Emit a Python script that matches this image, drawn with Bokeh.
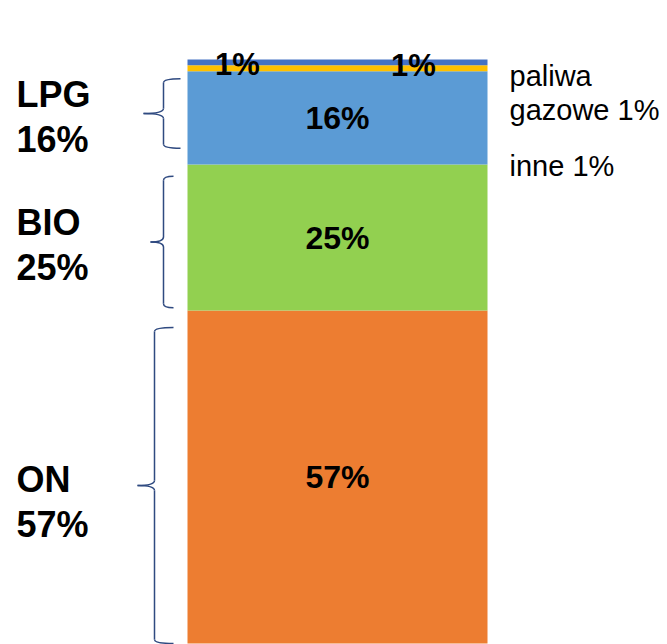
from bokeh.plotting import figure
from bokeh.models import Range1d, ColumnDataSource
from bokeh.core.properties import value
from bokeh.embed import file_html
from bokeh.resources import INLINE
import numpy as np

# ---- data (bottom to top) ----
categories = ["ON", "BIO", "LPG", "paliwa gazowe", "inne"]
shares = [57, 25, 16, 1, 1]
colors = ["#ED7D31", "#92D050", "#5B9BD5", "#FFC000", "#4472C4"]
seg_labels = ["57%", "25%", "16%", "1%", "1%"]

# left bracket labels (first three segments)
left_names = ["ON", "BIO", "LPG"]
left_values = ["57%", "25%", "16%"]

# right-hand notes
right_lines = ["paliwa", "gazowe 1%", "inne 1%"]

FONT = "Liberation Sans"
W, H = 667, 644
Y0, Y1 = -0.17, 110.1
p = figure(width=W, height=H, output_backend="svg", toolbar_location=None,
           x_range=Range1d(0, W), y_range=Range1d(Y0, Y1),
           min_border=0, outline_line_color=None)
p.axis.visible = False
p.xgrid.visible = False
p.ygrid.visible = False
p.background_fill_color = "white"
p.border_fill_color = "white"

PX = H / (Y1 - Y0)  # pixels per percent unit

tops = np.cumsum(shares)
bottoms = tops - np.array(shares)
bar_x = 337
bar_w = 300

src = ColumnDataSource(dict(x=[bar_x] * len(shares), bottom=bottoms, top=tops,
                            color=colors, cat=categories))
p.vbar(x="x", width=bar_w, bottom="bottom", top="top", fill_color="color",
       line_color=None, source=src)

# inner labels of big segments
mids = (bottoms + tops) / 2
p.text(x=[bar_x] * 3, y=list(mids[:3]), text=seg_labels[:3],
       text_font=value(FONT), text_font_style="bold", text_font_size="32px",
       text_align="center", text_baseline="middle", text_color="black")
# small top labels
p.text(x=[237, 413], y=[tops[-1] - 0.8, tops[-1] - 1.1], text=[seg_labels[4], seg_labels[3]],
       text_font=value(FONT), text_font_style="bold", text_font_size="31px",
       text_align="center", text_baseline="middle", text_color="black")

# left labels
lbl_shift = [25, 7, -1]  # pixel shifts of label blocks vs. segment centre
for i in range(3):
    yc = mids[i]
    p.text(x=[16], y=[yc], text=[left_names[i]], y_offset=-22.5 + lbl_shift[i],
           text_font=value(FONT), text_font_style="bold", text_font_size="36px",
           text_align="left", text_baseline="middle", text_color="black")
    p.text(x=[16], y=[yc], text=[left_values[i]], y_offset=22.5 + lbl_shift[i],
           text_font=value(FONT), text_font_style="bold", text_font_size="36px",
           text_align="left", text_baseline="middle", text_color="black")

# right notes
p.text(x=[509, 509, 509], y=[97.1, 91.4, 81.8], text=right_lines,
       text_font=value(FONT), text_font_size="29px",
       text_align="left", text_baseline="middle", text_color="black")

# braces
pad_top = [2.9, 2.0, 1.3]
pad_bot = [0.0, 0.5, 2.8]
xv = [154, 163, 163]
xt = [137, 150, 143]
xe = [173, 173, 180]
BR = "#2F4A80"
r_end = 4 / PX
r_tip = 5 / PX
for i in range(3):
    hi = tops[i] - pad_top[i]
    lo = bottoms[i] + pad_bot[i]
    md = (hi + lo) / 2
    v, t, e = xv[i], xt[i], xe[i]
    p.quadratic(x0=[e, v, t, v], y0=[hi, md + r_tip, md, lo + r_end],
                x1=[v, t, v, e], y1=[hi - r_end, md, md - r_tip, lo],
                cx=[v, v, v, v], cy=[hi, md, md, lo],
                line_color=BR, line_width=1.5)
    p.segment(x0=[v, v], y0=[hi - r_end, md - r_tip], x1=[v, v], y1=[md + r_tip, lo + r_end],
              line_color=BR, line_width=1.5)

open("out.html", "w").write(file_html(p, INLINE))
